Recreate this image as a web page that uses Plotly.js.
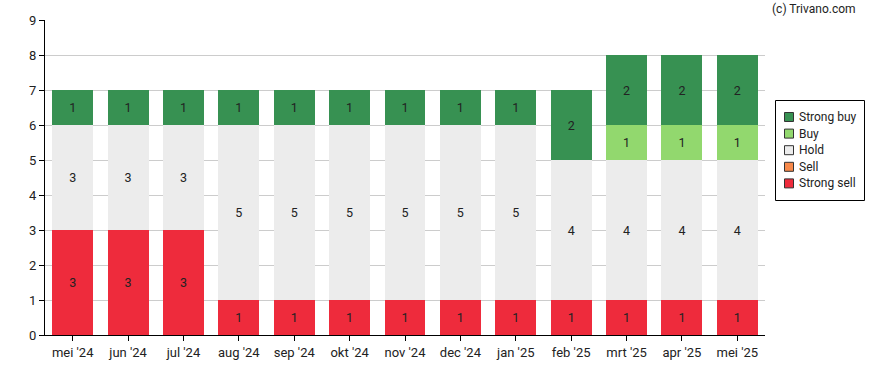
<!DOCTYPE html>
<html><head><meta charset="utf-8">
<script src="https://cdn.plot.ly/plotly-3.0.1.min.js"></script>
<style>body{margin:0;background:#fff}#c{width:888px;height:370px}</style>
</head><body><div id="c"></div>
<script>
const months = ["mei '24","jun '24","jul '24","aug '24","sep '24","okt '24","nov '24","dec '24","jan '25","feb '25","mrt '25","apr '25","mei '25"];
const strongSell = [3,3,3,1,1,1,1,1,1,1,1,1,1];
const sell       = [0,0,0,0,0,0,0,0,0,0,0,0,0];
const hold       = [3,3,3,5,5,5,5,5,5,4,4,4,4];
const buy        = [0,0,0,0,0,0,0,0,0,0,1,1,1];
const strongBuy  = [1,1,1,1,1,1,1,1,1,2,2,2,2];
const yTicks = [0,1,2,3,4,5,6,7,8,9];
const seriesNames = ['Strong sell','Sell','Hold','Buy','Strong buy'];
const seriesColors = ['#ee2b3c','#f7894a','#ececec','#92d86e','#379152'];
const seriesValues = [strongSell, sell, hold, buy, strongBuy];

const data = seriesNames.map((name, i) => ({
  type:'bar', name:name, x:months, y:seriesValues[i],
  marker:{color:seriesColors[i], line:{width:0}},
  text: seriesValues[i].map(v => v ? String(v) : ''), textposition:'inside', insidetextanchor:'middle',
  textfont:{family:'Roboto, sans-serif', size:12.5, color:'#222'}, constraintext:'none',
  hoverinfo:'skip'
}));

// plot area in px: x 45..765, y 20..335
const PX = px => (px - 45) / 720;
const PY = py => (335 - py) / 315;
const shapes = [{type:'rect', xref:'paper', yref:'paper', x0:PX(775.5), x1:PX(864.5), y0:PY(100.5), y1:PY(200.5), line:{color:'#000', width:1}, fillcolor:'#fff'}];
const annotations = [{text:'(c) Trivano.com', xref:'paper', yref:'paper', x:PX(858), xanchor:'right', y:PY(9), yanchor:'middle', showarrow:false, font:{size:12, color:'#222'}}];
const order = [4,3,2,1,0];
order.forEach((si, row) => {
  const cy = 117 + row * 16.6;
  shapes.push({type:'rect', xref:'paper', yref:'paper', x0:PX(784.5), x1:PX(793.5), y0:PY(cy-4.5), y1:PY(cy+4.5), line:{color:'#333', width:1}, fillcolor:seriesColors[si]});
  annotations.push({text:seriesNames[si], xref:'paper', yref:'paper', x:PX(797), xanchor:'left', y:PY(cy), yanchor:'middle', showarrow:false, font:{size:12, color:'#222'}});
});

const layout = {
  width:888, height:370, barmode:'stack', bargap:0.26,
  margin:{l:45, r:123, t:20, b:35},
  paper_bgcolor:'#fff', plot_bgcolor:'#fff',
  font:{family:'Roboto, sans-serif', size:12, color:'#222'},
  xaxis:{showline:true, linecolor:'#000', linewidth:1, ticks:'outside', ticklen:5, tickcolor:'#000', showgrid:false, tickfont:{size:13}, automargin:false},
  yaxis:{range:[0,9], tickvals:yTicks, showline:true, linecolor:'#000', linewidth:1, ticks:'outside', ticklen:5, tickcolor:'#000', gridcolor:'#cccccc', zeroline:false, tickfont:{size:13}, automargin:false},
  showlegend:false,
  shapes:shapes,
  annotations:annotations
};
Plotly.newPlot('c', data, layout, {staticPlot:true});
</script></body></html>
